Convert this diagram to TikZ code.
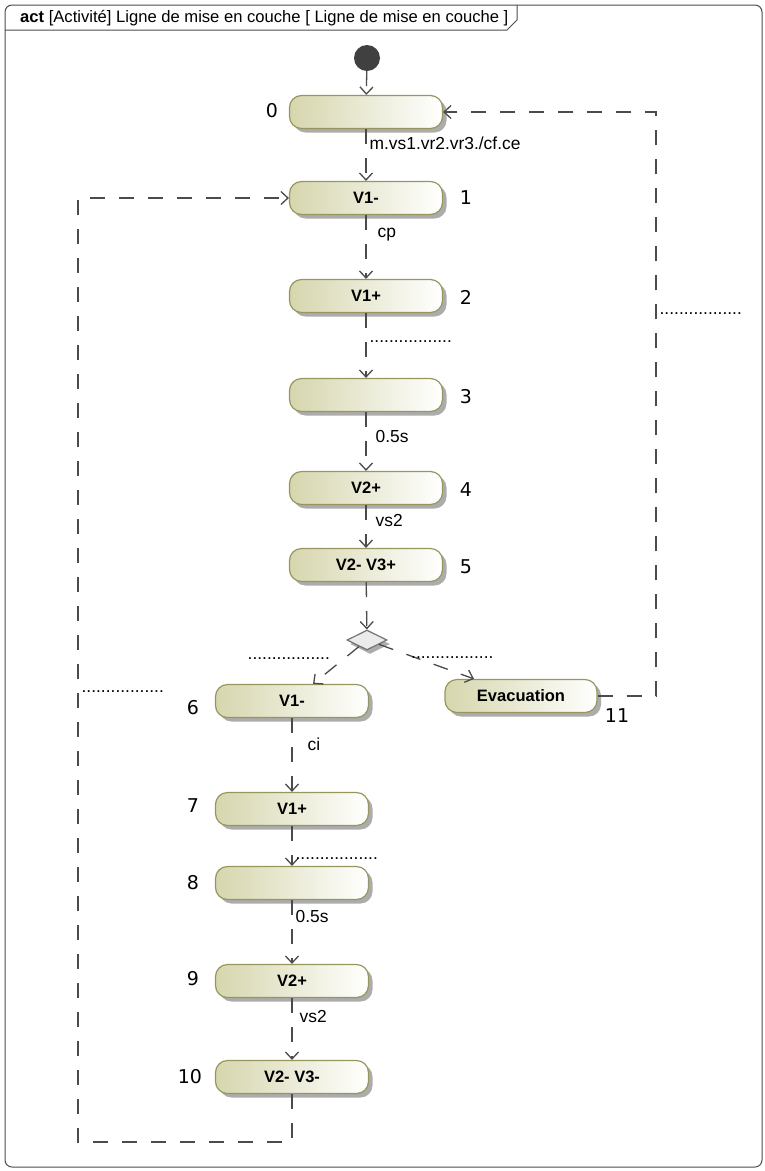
\documentclass[tikz,border=0pt]{standalone}
\usepackage{fontspec}
\setmainfont{Liberation Sans}
\newfontfamily\numfont{DejaVu Sans}
\usetikzlibrary{arrows.meta,shapes.geometric,shadows}
\definecolor{khaki}{RGB}{214,214,174}
\definecolor{khakiline}{RGB}{150,150,94}
\definecolor{flowgray}{RGB}{75,75,75}
\newcommand{\garde}{.................}
\tikzset{
  >={Straight Barb[length=7pt,width=13pt]},
  frame/.style = {draw=black!70, line width=1pt, rounded corners=7pt},
  title/.style = {font=\fontsize{16.6}{19}\selectfont, inner sep=0pt},
  start/.style = {circle, fill=black!75, minimum size=26pt, inner sep=0pt},
  action/.style = {rounded corners=12pt, draw=khakiline, line width=1.2pt,
                  left color=khaki, right color=white,
                  minimum width=153pt, minimum height=33pt,
                  font=\fontsize{16.5}{19}\selectfont\bfseries,
                  drop shadow={shadow xshift=4pt, shadow yshift=-4pt,
                               fill=black!50, opacity=.65}},
  decision/.style = {diamond, aspect=2, draw=black!55, line width=1.2pt,
                  fill=black!8, minimum width=40pt, minimum height=20pt,
                  inner sep=0pt,
                  drop shadow={shadow xshift=3pt, shadow yshift=-4pt,
                               fill=black!50, opacity=.65}},
  flow/.style = {draw=flowgray, line width=1.3pt, dash pattern=on 15pt off 14pt, ->},
  lbl/.style = {font=\fontsize{17.4}{20}\selectfont, anchor=west, inner sep=3pt},
  num/.style = {font=\numfont\fontsize{19}{22}\selectfont, inner sep=0pt},
}
\begin{document}
\begin{tikzpicture}[x=1pt,y=-1pt]
\useasboundingbox (0,0) rectangle (764,1171);
% cadre de l'activite
\draw[frame] (5,5) rectangle (762,1167);
\draw[frame,rounded corners=0pt] (5,30) -- (507,30) -- (517,20) -- (517,5);
\node[title,anchor=west] (title) at (20,18)
  {\textbf{act} [Activité] Ligne de mise en couche [ Ligne de mise en couche ]};
% etapes
\node[start] (init) at (367,58) {};
\node[action] (n0) at (366,112) {};
\node[action] (n1) at (366,198) {V1-};
\node[action] (n2) at (366,296) {V1+};
\node[action] (n3) at (366,395) {};
\node[action] (n4) at (366,488) {V2+};
\node[action] (n5) at (366,565) {V2- V3+};
\node[decision] (dec) at (367,640) {};
\node[action] (n6) at (292,701) {V1-};
\node[action,minimum width=152pt] (evac) at (521,696) {Evacuation};
\node[action] (n7) at (292,809) {V1+};
\node[action] (n8) at (292,883) {};
\node[action] (n9) at (292,981) {V2+};
\node[action] (n10) at (292,1077) {V2- V3-};
% numeros
\node[num] (l0) at (272,111) {0};
\node[num] (l1) at (466,198) {1};
\node[num] (l2) at (466,297) {2};
\node[num] (l3) at (466,397) {3};
\node[num] (l4) at (466,490) {4};
\node[num] (l5) at (466,567) {5};
\node[num] (l6) at (193,708) {6};
\node[num] (l7) at (193,806) {7};
\node[num] (l8) at (193,883) {8};
\node[num] (l9) at (193,979) {9};
\node[num] (l10) at (190,1077) {10};
\node[num] (l11) at (617,716) {11};
% transitions
\path[flow] (init) edge (n0)
            (n0) edge node[lbl,pos=.28] {m.vs1.vr2.vr3./cf.ce} (n1)
            (n1) edge node[lbl,pos=.3,xshift=8pt] {cp} (n2)
            (n2) edge node[lbl,pos=.4,yshift=-3pt] {\garde} (n3)
            (n3) edge node[lbl,pos=.42,xshift=6pt] {0.5s} (n4)
            (n4) edge node[lbl,pos=.36,xshift=6pt] {vs2} (n5)
            (n5) edge (dec)
            (dec) edge node[lbl,anchor=east,pos=.25,xshift=-14pt,yshift=-3pt] {\garde} (n6)
            (dec) edge node[lbl,pos=.3,yshift=-3pt] {\garde} (evac)
            (n6) edge node[lbl,pos=.36,xshift=12pt] {ci} (n7)
            (n7) edge node[lbl,pos=.75,yshift=-3pt] {\garde} (n8)
            (n8) edge node[lbl,pos=.25] {0.5s} (n9)
            (n9) edge node[lbl,pos=.3,xshift=4pt] {vs2} (n10);
% retours
\coordinate (evacturn) at (656,696);
\draw[flow] (evac.east) -- (evacturn) |- node[lbl,pos=.33,yshift=-3pt] {\garde} (n0.east);
\coordinate (loopa) at (292,1142);
\coordinate (loopb) at (78,1142);
\draw[flow] (n10) -- (loopa) -- (loopb) |- node[lbl,pos=.24,yshift=-3pt] {\garde} (n1.west);
\end{tikzpicture}
\end{document}
